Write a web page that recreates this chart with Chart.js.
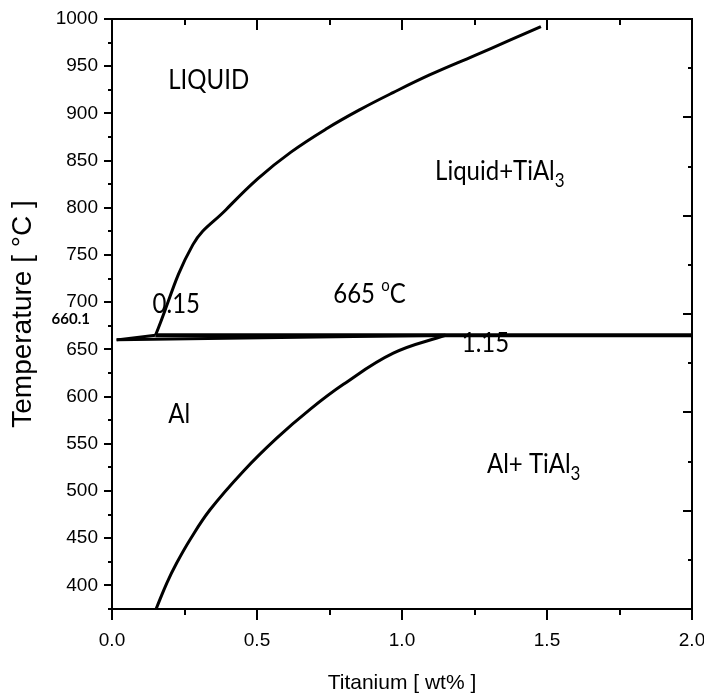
<!DOCTYPE html>
<html>
<head>
<meta charset="utf-8">
<script src="https://cdn.jsdelivr.net/npm/chart.js@4.4.1/dist/chart.umd.min.js"></script>
<style>
  html, body { margin: 0; padding: 0; background: #fff; }
  canvas { display: block; }
</style>
</head>
<body>
<canvas id="c" width="704" height="698"></canvas>
<script>
// Al–Ti equilibrium diagram, aluminium-rich corner (0–2 wt% Ti)

// invariant points
const meltingPointAl = 660.1;     // °C, pure aluminium
const peritecticT = 665;          // °C, peritectic isotherm
const liquidPeritecticTi = 0.15;  // wt% Ti in the liquid at the peritectic
const solidPeritecticTi = 1.15;   // wt% Ti in (Al) at the peritectic
const alEdgeTi = 0.016;           // wt% Ti where the melting point is drawn
const isothermEndTi = 2.0;

// liquidus  L / L + TiAl3
const liquidusTi = [0.15, 0.279, 0.393, 0.503, 0.617, 0.741, 0.855, 0.969, 1.097, 1.248, 1.372, 1.479];
const liquidusT  = [665, 761, 798, 831, 859, 884, 904, 922, 941, 961, 977.5, 992];

// solvus  (Al) / (Al) + TiAl3
const solvusTi = [0.152, 0.189, 0.223, 0.269, 0.338, 0.453, 0.568, 0.683, 0.798, 0.970, 1.15];
const solvusT  = [375, 402.5, 423.7, 448.4, 480.1, 521, 556, 586.5, 613, 646, 665];

// axis tick labels
const tiTickLabels = ['0.0', '0.5', '1.0', '1.5', '2.0'];
const tempTickLabels = ['400', '450', '500', '550', '600', '650', '700', '750', '800', '850', '900', '950', '1000'];

const pts = (xs, ys) => xs.map((v, i) => ({ x: v, y: ys[i] }));

const SANS = "'Liberation Sans', Arial, sans-serif";
const NOTE = "Lato, 'Open Sans', sans-serif";

// phase-field and point labels, placed in data units
const notes = [
  { x: 0.194, y: 925.6, parts: [{ t: 'LIQUID' }] },
  { x: 1.114, y: 829.5, parts: [{ t: 'Liquid+TiAl' }, { t: '3', s: 'sub' }] },
  { x: 0.763, y: 699.6, parts: [{ t: String(peritecticT) + ' ' }, { t: 'o', s: 'sup' }, { t: 'C' }] },
  { x: 0.140, y: 689.0, parts: [{ t: liquidPeritecticTi.toFixed(2) }] },
  { x: 1.206, y: 647.7, parts: [{ t: solidPeritecticTi.toFixed(2) }] },
  { x: -0.076, y: 677.0, align: 'right', parts: [{ t: meltingPointAl.toFixed(1), s: 'bold' }] },
  { x: 0.194, y: 571.9, parts: [{ t: 'Al' }] },
  { x: 1.293, y: 519.0, parts: [{ t: 'Al+ TiAl' }, { t: '3', s: 'sub' }] }
];

const noteFont = {
  reg:  { font: '24px ' + NOTE, dy: 0, k: 1.15 },
  sub:  { font: '17px ' + NOTE, dy: 7, k: 1.12 },
  sup:  { font: '15px ' + NOTE, dy: -12, k: 1.12 },
  bold: { font: 'bold 15px ' + NOTE, dy: 0, k: 1.0 }
};

const notesPlugin = {
  id: 'phaseNotes',
  afterDraw(chart) {
    const { ctx, scales: { x, y } } = chart;
    ctx.save();
    ctx.fillStyle = '#000';
    ctx.textBaseline = 'alphabetic';
    ctx.textAlign = 'left';
    notes.forEach(n => {
      const px = x.getPixelForValue(n.x);
      const py = y.getPixelForValue(n.y);
      let total = 0;
      n.parts.forEach(p => { ctx.font = noteFont[p.s || 'reg'].font; total += ctx.measureText(p.t).width; });
      let cx = n.align === 'right' ? px - total : px;
      n.parts.forEach(p => {
        const f = noteFont[p.s || 'reg'];
        ctx.font = f.font;
        ctx.save();
        ctx.translate(cx, py + f.dy);
        ctx.scale(1, f.k);
        ctx.fillText(p.t, 0, 0);
        ctx.restore();
        cx += ctx.measureText(p.t).width;
      });
    });
    ctx.restore();
  }
};

// tick marks on all four sides: outward on bottom/left, inward on top/right
const frameTicks = {
  id: 'frameTicks',
  afterDraw(chart) {
    const { ctx, chartArea: a, scales: { x, y, y2 } } = chart;
    ctx.save();
    ctx.strokeStyle = '#000';
    ctx.lineWidth = 2;
    ctx.beginPath();
    x.ticks.forEach(t => {
      const px = Math.round(x.getPixelForValue(t.value));
      const major = t.label !== '';
      ctx.moveTo(px, a.bottom); ctx.lineTo(px, a.bottom + (major ? 11 : 6));
      ctx.moveTo(px, a.top);    ctx.lineTo(px, a.top + (major ? 11 : 6));
    });
    y.ticks.forEach(t => {
      const py = Math.round(y.getPixelForValue(t.value));
      const major = t.label !== '';
      ctx.moveTo(a.left, py); ctx.lineTo(a.left - (major ? 8 : 4), py);
    });
    y2.ticks.forEach(t => {
      const py = Math.round(y2.getPixelForValue(t.value));
      const major = t.value % 2 === 0;
      ctx.moveTo(a.right, py); ctx.lineTo(a.right - (major ? 9 : 4), py);
    });
    ctx.stroke();
    ctx.restore();
  }
};

const line = (data, width, tension) => ({
  data,
  showLine: true,
  borderColor: '#000',
  borderWidth: width,
  pointRadius: 0,
  pointHoverRadius: 0,
  tension
});

const border = { display: true, color: '#000', width: 2 };
const noGrid = { display: false, drawTicks: false, drawOnChartArea: false };

new Chart(document.getElementById('c'), {
  type: 'scatter',
  data: {
    datasets: [
      line(pts(liquidusTi, liquidusT), 3, 0.4),
      line([{ x: alEdgeTi, y: meltingPointAl }, { x: liquidPeritecticTi, y: peritecticT }], 3, 0),
      line([{ x: alEdgeTi, y: meltingPointAl }, { x: solidPeritecticTi, y: peritecticT }], 3, 0),
      line([{ x: liquidPeritecticTi, y: peritecticT }, { x: isothermEndTi, y: peritecticT }], 4, 0),
      line(pts(solvusTi, solvusT), 3, 0.4)
    ]
  },
  options: {
    responsive: false,
    devicePixelRatio: 1,
    animation: false,
    events: [],
    layout: { padding: 0 },
    plugins: { legend: { display: false }, tooltip: { enabled: false } },
    scales: {
      x: {
        type: 'linear', position: 'bottom', min: 0, max: 2,
        grid: noGrid, border,
        ticks: {
          stepSize: 0.25, autoSkip: false, maxRotation: 0, minRotation: 0,
          padding: 20, color: '#000',
          font: { family: SANS, size: 19 },
          callback: v => {
            const s = Number(v).toFixed(1);
            return Math.abs(v * 2 - Math.round(v * 2)) < 1e-9 && tiTickLabels.includes(s) ? s : '';
          }
        },
        title: {
          display: true, text: 'Titanium [ wt% ]', color: '#000',
          font: { family: SANS, size: 21, lineHeight: 1 },
          padding: { top: 0, bottom: 4 }
        },
        afterFit: s => { s.height = 89; s.paddingLeft = 0; s.paddingRight = 0; }
      },
      x2: {
        type: 'linear', position: 'top', min: 0, max: 2,
        grid: noGrid, border,
        ticks: { display: false, stepSize: 0.25 },
        afterFit: s => { s.height = 19; s.paddingLeft = 0; s.paddingRight = 0; }
      },
      y: {
        type: 'linear', position: 'left', min: 375, max: 1000,
        grid: noGrid, border,
        ticks: {
          stepSize: 25, autoSkip: false, padding: 14, color: '#000',
          font: { family: SANS, size: 19 },
          callback: v => tempTickLabels.includes(String(v)) ? String(v) : ''
        },
        title: {
          display: true, text: 'Temperature [ °C ]', color: '#000',
          font: { family: SANS, size: 28, lineHeight: 1 },
          padding: { top: 9, bottom: 0 }
        },
        afterFit: s => { s.width = 112; s.paddingTop = 0; s.paddingBottom = 0; }
      },
      y2: {
        type: 'linear', position: 'right', min: 0, max: 12,
        grid: noGrid, border,
        ticks: { display: false, stepSize: 1 },
        afterFit: s => { s.width = 12; s.paddingTop = 0; s.paddingBottom = 0; }
      }
    }
  },
  plugins: [frameTicks, notesPlugin]
});
</script>
</body>
</html>
